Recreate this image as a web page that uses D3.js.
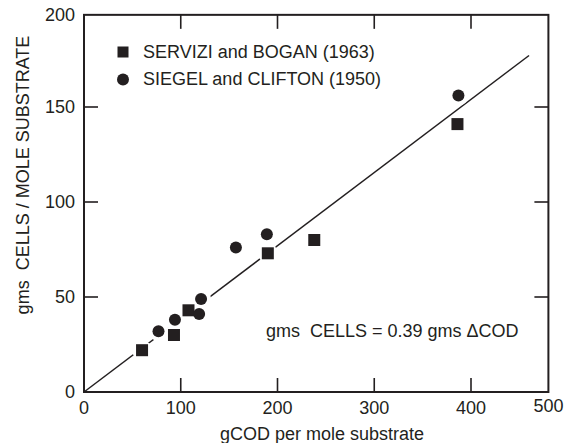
<!DOCTYPE html>
<meta charset="utf-8" />
<script src="https://d3js.org/d3.v7.js"></script>
<style>
  body { margin: 0; background: #fff; }
  text { font-family: "Liberation Sans", Arial, sans-serif; fill: #231f20; }
</style>

<div id="my_dataviz"></div>

<script>
  // data
  var servizi_cod = [60, 93, 108, 190, 238, 386];
  var servizi_cells = [22, 30, 43, 73, 80, 141];
  var siegel_cod = [77, 94, 119, 121, 157, 189, 387];
  var siegel_cells = [32, 38, 41, 49, 76, 83, 156];

  var x_ticks = [0, 100, 200, 300, 400, 500];
  var y_ticks = [0, 50, 100, 150, 200];
  var legend_names = ["SERVIZI and BOGAN (1963)", "SIEGEL and CLIFTON (1950)"];

  // fitted line: cells = slope * COD, drawn up to fit_end
  var fit_slope = 0.385;
  var fit_end = 460;
  var equation = "gms  CELLS = 0.39 gms \u0394COD";

  // the frame stops short of the last tick labels
  var x_edge = 480;
  var y_edge = 198.5;

  const width = 578,
    height = 443,
    ink = "#231f20",
    fontSize = "18px";

  const svg = d3
    .select("#my_dataviz")
    .append("svg")
    .attr("width", width)
    .attr("height", height);

  const x = d3.scaleLinear().domain([0, 500]).range([84, 567.75]);
  const y = d3.scaleLinear().domain([0, 200]).range([392, 12]);

  // frame
  svg
    .append("rect")
    .attr("x", x(0))
    .attr("y", y(y_edge))
    .attr("width", x(x_edge) - x(0))
    .attr("height", y(0) - y(y_edge))
    .attr("fill", "none")
    .attr("stroke", ink)
    .attr("stroke-width", 2);

  // inward ticks on all four sides
  var inner_x = x_ticks.filter((d) => d > 0 && d < x_edge);
  var inner_y = y_ticks.filter((d) => d > 0 && d < y_edge);
  var tickLen = 14;

  svg
    .append("g")
    .selectAll("line")
    .data(inner_x)
    .join("line")
    .attr("x1", (d) => x(d))
    .attr("x2", (d) => x(d))
    .attr("y1", y(0))
    .attr("y2", y(0) - tickLen)
    .attr("stroke", ink)
    .attr("stroke-width", 1.6);
  svg
    .append("g")
    .selectAll("line")
    .data(inner_x)
    .join("line")
    .attr("x1", (d) => x(d))
    .attr("x2", (d) => x(d))
    .attr("y1", y(y_edge))
    .attr("y2", y(y_edge) + tickLen)
    .attr("stroke", ink)
    .attr("stroke-width", 1.6);
  svg
    .append("g")
    .selectAll("line")
    .data(inner_y)
    .join("line")
    .attr("x1", x(0))
    .attr("x2", x(0) + tickLen)
    .attr("y1", (d) => y(d))
    .attr("y2", (d) => y(d))
    .attr("stroke", ink)
    .attr("stroke-width", 1.6);
  svg
    .append("g")
    .selectAll("line")
    .data(inner_y)
    .join("line")
    .attr("x1", x(x_edge))
    .attr("x2", x(x_edge) - tickLen)
    .attr("y1", (d) => y(d))
    .attr("y2", (d) => y(d))
    .attr("stroke", ink)
    .attr("stroke-width", 1.6);

  // tick labels (the last label sits at the frame corner)
  svg
    .append("g")
    .selectAll("text")
    .data(x_ticks)
    .join("text")
    .attr("text-anchor", "middle")
    .attr("x", (d) => (d > x_edge ? x(x_edge) : x(d)))
    .attr("y", (d) => (d > x_edge ? 411.5 : 413.5))
    .style("font-size", fontSize)
    .text((d) => d);

  svg
    .append("g")
    .selectAll("text")
    .data(y_ticks)
    .join("text")
    .attr("text-anchor", "end")
    .attr("x", 75)
    .attr("y", (d) => (d > y_edge ? y(y_edge) : y(d)))
    .attr("dy", "0.36em")
    .style("font-size", fontSize)
    .text((d) => d);

  // axis titles
  svg
    .append("text")
    .attr("text-anchor", "middle")
    .attr("x", 322)
    .attr("y", 440)
    .style("font-size", fontSize)
    .text("gCOD per mole substrate");

  svg
    .append("text")
    .attr("text-anchor", "middle")
    .attr("transform", "translate(29,175) rotate(-90)")
    .style("font-size", fontSize)
    .style("white-space", "pre")
    .text("gms  CELLS / MOLE SUBSTRATE");

  // fitted line
  svg
    .append("line")
    .attr("x1", x(0))
    .attr("y1", y(0))
    .attr("x2", x(fit_end))
    .attr("y2", y(fit_slope * fit_end))
    .attr("stroke", ink)
    .attr("stroke-width", 1.5);

  var squares = servizi_cod.map((d, i) => ({ cod: d, cells: servizi_cells[i] }));
  var circles = siegel_cod.map((d, i) => ({ cod: d, cells: siegel_cells[i] }));
  var allPts = squares.concat(circles);

  // white halo that breaks the line around the markers
  svg
    .append("g")
    .selectAll("circle")
    .data(allPts)
    .join("circle")
    .attr("cx", (d) => x(d.cod))
    .attr("cy", (d) => y(d.cells))
    .attr("r", 10)
    .attr("fill", "#fff");

  var sq = 12;
  svg
    .append("g")
    .selectAll("rect")
    .data(squares)
    .join("rect")
    .attr("x", (d) => x(d.cod) - sq / 2)
    .attr("y", (d) => y(d.cells) - sq / 2)
    .attr("width", sq)
    .attr("height", sq)
    .attr("fill", ink);

  svg
    .append("g")
    .selectAll("circle")
    .data(circles)
    .join("circle")
    .attr("cx", (d) => x(d.cod))
    .attr("cy", (d) => y(d.cells))
    .attr("r", 6)
    .attr("fill", ink);

  // legend
  var legend = svg.append("g").attr("transform", "translate(123,52)");
  legend
    .append("rect")
    .attr("x", -5.5)
    .attr("y", -5.5)
    .attr("width", 11)
    .attr("height", 11)
    .attr("fill", ink);
  legend.append("circle").attr("cx", 0).attr("cy", 27.5).attr("r", 6).attr("fill", ink);
  legend
    .selectAll("text")
    .data(legend_names)
    .join("text")
    .attr("x", 20)
    .attr("y", (d, i) => 5.5 + i * 27.5)
    .style("font-size", fontSize)
    .text((d) => d);

  svg
    .append("text")
    .attr("x", 266)
    .attr("y", 337)
    .style("font-size", fontSize)
    .style("white-space", "pre")
    .text(equation);
</script>
